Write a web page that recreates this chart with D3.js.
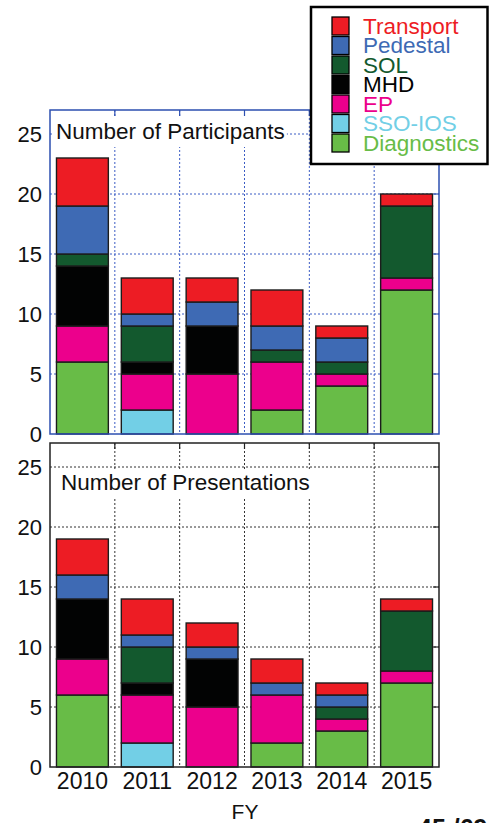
<!DOCTYPE html>
<html>
<head>
<meta charset="utf-8">
<script src="https://cdn.jsdelivr.net/npm/d3@7"></script>
<style>
html,body{margin:0;padding:0;background:#fff;}
svg{display:block;font-family:"Liberation Sans",Arial,sans-serif;}
</style>
</head>
<body>
<svg id="chart" width="489" height="823"></svg>
<script>
// ---- data ----
const years = ["2010", "2011", "2012", "2013", "2014", "2015"];
const categories = ["Diagnostics", "SSO-IOS", "EP", "MHD", "SOL", "Pedestal", "Transport"]; // bottom -> top
const legendOrder = ["Transport", "Pedestal", "SOL", "MHD", "EP", "SSO-IOS", "Diagnostics"];
const yTicks = [0, 5, 10, 15, 20, 25];

// Number of Participants
const partDiagnostics = [6, 0, 0, 2, 4, 12];
const partSSOIOS      = [0, 2, 0, 0, 0, 0];
const partEP          = [3, 3, 5, 4, 1, 1];
const partMHD         = [5, 1, 4, 0, 0, 0];
const partSOL         = [1, 3, 0, 1, 1, 6];
const partPedestal    = [4, 1, 2, 2, 2, 0];
const partTransport   = [4, 3, 2, 3, 1, 1];

// Number of Presentations
const presDiagnostics = [6, 0, 0, 2, 3, 7];
const presSSOIOS      = [0, 2, 0, 0, 0, 0];
const presEP          = [3, 4, 5, 4, 1, 1];
const presMHD         = [5, 1, 4, 0, 0, 0];
const presSOL         = [0, 3, 0, 0, 1, 5];
const presPedestal    = [2, 1, 1, 1, 1, 0];
const presTransport   = [3, 3, 2, 2, 1, 1];

const colors = {
  "Transport": "#ed1c24",
  "Pedestal": "#3e6ab4",
  "SOL": "#13592e",
  "MHD": "#020303",
  "EP": "#ec008c",
  "SSO-IOS": "#72cfe6",
  "Diagnostics": "#68bc47"
};

function rows(arrs) {
  return years.map((yr, i) => {
    const r = {year: yr};
    categories.forEach((c, k) => r[c] = arrs[k][i]);
    return r;
  });
}
const partRows = rows([partDiagnostics, partSSOIOS, partEP, partMHD, partSOL, partPedestal, partTransport]);
const presRows = rows([presDiagnostics, presSSOIOS, presEP, presMHD, presSOL, presPedestal, presTransport]);

const svg = d3.select("#chart");
const FONT = "Liberation Sans, Arial, sans-serif";

const x = d3.scaleBand().domain(years).range([50, 439]).paddingInner(0.2).paddingOuter(0.1);
const gap = (x.step() - x.bandwidth()) / 2;
const stack = d3.stack().keys(categories);

function panel(cfg) {
  const y = d3.scaleLinear().domain([0, 27]).range([cfg.bottom, cfg.top]);
  const g = svg.append("g");
  const [L, R] = x.range();

  // grid
  g.append("g").selectAll("line").data(yTicks.filter(t => t > 0)).join("line")
    .attr("x1", L).attr("x2", R).attr("y1", d => y(d)).attr("y2", d => y(d))
    .attr("stroke", cfg.grid).attr("stroke-width", 1).attr("stroke-dasharray", "2,2");
  const bounds = years.slice(1).map(yr => x(yr) - gap);
  g.append("g").selectAll("line").data(bounds).join("line")
    .attr("x1", d => d).attr("x2", d => d).attr("y1", cfg.top).attr("y2", cfg.bottom)
    .attr("stroke", cfg.grid).attr("stroke-width", 1).attr("stroke-dasharray", "2,2");

  // title box + title
  const boxG = g.append("g");
  const title = g.append("text").attr("x", cfg.tx).attr("y", cfg.ty)
    .attr("font-size", 22.5).attr("fill", "#111").text(cfg.title);
  const tw = title.node().getComputedTextLength();
  boxG.append("rect").attr("x", L + 2).attr("y", cfg.boxTop)
    .attr("width", cfg.tx + tw + 2 - (L + 2)).attr("height", cfg.boxBottom - cfg.boxTop)
    .attr("fill", "#fff");

  // bars
  const series = stack(cfg.data);
  g.append("g").selectAll("g").data(series).join("g")
    .attr("fill", d => colors[d.key])
    .selectAll("rect").data(d => d.filter(p => p[1] > p[0])).join("rect")
    .attr("x", d => x(d.data.year)).attr("width", x.bandwidth())
    .attr("y", d => y(d[1])).attr("height", d => y(d[0]) - y(d[1]))
    .attr("stroke", "#1c1c1c").attr("stroke-width", 1.4);

  // inward ticks on right and top
  g.append("g").selectAll("line").data(yTicks.filter(t => t > 0)).join("line")
    .attr("x1", R - 6).attr("x2", R).attr("y1", d => y(d)).attr("y2", d => y(d))
    .attr("stroke", cfg.frame).attr("stroke-width", 1.2);
  g.append("g").selectAll("line").data(bounds).join("line")
    .attr("x1", d => d).attr("x2", d => d).attr("y1", cfg.top).attr("y2", cfg.top + 6)
    .attr("stroke", cfg.frame).attr("stroke-width", 1.2);

  // frame
  g.append("rect").attr("x", L).attr("y", cfg.top).attr("width", R - L).attr("height", cfg.bottom - cfg.top)
    .attr("fill", "none").attr("stroke", cfg.frame).attr("stroke-width", 1.5);

  // y axis labels
  const ya = g.append("g").attr("transform", `translate(${L - 8},0)`)
    .call(d3.axisLeft(y).tickValues(yTicks).tickSize(0).tickPadding(0));
  ya.select(".domain").remove();
  ya.selectAll("text").attr("font-size", 22).attr("fill", "#111")
    .attr("font-family", FONT).attr("dy", "0.36em");

  if (cfg.xaxis) {
    const xa = g.append("g").attr("transform", `translate(0,${cfg.bottom})`)
      .call(d3.axisBottom(x).tickSize(0).tickPadding(0));
    xa.select(".domain").remove();
    xa.selectAll("text").attr("font-size", 23).attr("fill", "#111")
      .attr("font-family", FONT).attr("y", 22).attr("dy", "0");
  }
}

panel({data: partRows, top: 110, bottom: 434, grid: "#3b5cc4", frame: "#2d4fb0",
  title: "Number of Participants", tx: 56, ty: 139, boxTop: 116, boxBottom: 147, xaxis: false});
panel({data: presRows, top: 443, bottom: 767, grid: "#333", frame: "#222",
  title: "Number of Presentations", tx: 61, ty: 490, boxTop: 469, boxBottom: 497, xaxis: true});

// x axis title
svg.append("text").attr("x", 245).attr("y", 819).attr("text-anchor", "middle")
  .attr("font-size", 21).attr("fill", "#111").text("FY");

// page number (cut off at bottom)
svg.append("text").attr("x", 418).attr("y", 837).attr("font-size", 25).attr("font-weight", "bold")
  .attr("fill", "#111").text("45 /69");

// legend
const lg = svg.append("g");
lg.append("rect").attr("x", 311).attr("y", 7).attr("width", 176.5).attr("height", 157)
  .attr("fill", "#fff").attr("stroke", "#000").attr("stroke-width", 2.5);
const items = lg.selectAll("g").data(legendOrder).join("g")
  .attr("transform", (d, i) => `translate(0,${17 + i * 19.5})`);
items.append("rect").attr("x", 332).attr("y", 0).attr("width", 17).attr("height", 18)
  .attr("fill", d => colors[d]).attr("stroke", "#000").attr("stroke-width", 1.3);
items.append("text").attr("x", 363).attr("y", 16.5).attr("font-size", 22.5)
  .attr("fill", d => colors[d]).text(d => d);
</script>
</body>
</html>
